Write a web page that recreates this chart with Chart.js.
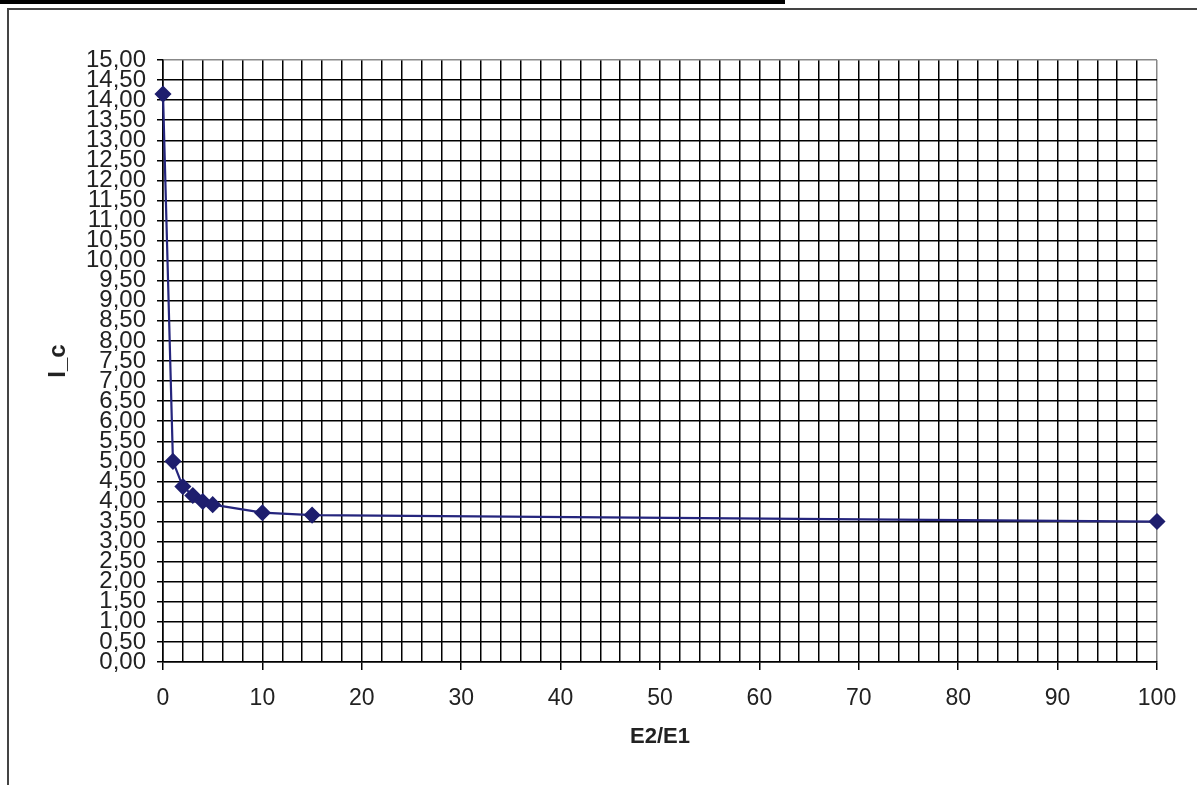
<!DOCTYPE html>
<html>
<head>
<meta charset="utf-8">
<script src="https://cdn.jsdelivr.net/npm/chart.js@4"></script>
<style>
  html, body { margin: 0; padding: 0; background: #fff; }
  body { width: 1197px; height: 785px; position: relative; overflow: hidden; }
  #topbar { position: absolute; left: 0; top: 0; width: 785px; height: 4px; background: #000; }
  #frameTop { position: absolute; left: 7px; top: 8px; width: 1190px; height: 2px; background: #444; }
  #frameLeft { position: absolute; left: 7px; top: 8px; width: 2px; height: 777px; background: #444; }
  #wrap { position: absolute; left: 0; top: 0; width: 1197px; height: 785px; }
</style>
</head>
<body>
<div id="topbar"></div>
<div id="frameTop"></div>
<div id="frameLeft"></div>
<div id="wrap"><canvas id="chart" width="1197" height="785"></canvas></div>
<script>
// ratio E2/E1 and the value I_c
const ratios = [0, 1, 2, 3, 4, 5, 10, 15, 100];
const icValues = [14.15, 5.00, 4.37, 4.15, 4.00, 3.92, 3.72, 3.66, 3.50];

const xTitle = "E2/E1";
const yTitle = "I_c";

const points = ratios.map((r, i) => ({ x: r, y: icValues[i] }));

const ctx = document.getElementById('chart').getContext('2d');
const myChart = new Chart(ctx, {
    type: 'scatter',
    data: {
        datasets: [{
            data: points,
            showLine: true,
            borderColor: '#25257d',
            borderWidth: 2.2,
            backgroundColor: '#1e1e6e',
            pointBackgroundColor: '#1e1e6e',
            pointBorderColor: '#1e1e6e',
            pointStyle: 'rectRot',
            pointRadius: 7,
            clip: false
        }]
    },
    options: {
        responsive: false,
        animation: false,
        layout: { padding: { left: 40, right: 40, top: 60, bottom: 23 } },
        plugins: { legend: { display: false }, tooltip: { enabled: false } },
        scales: {
            x: {
                type: 'linear',
                min: 0, max: 100,
                afterFit: (scale) => { scale.height = 100; },
                border: { color: '#000', width: 1.5 },
                grid: {
                    color: (c) => c.tick && c.tick.value === 100 ? '#888' : '#000',
                    lineWidth: 1.5,
                    tickLength: 8,
                    tickColor: (c) => c.tick && c.tick.value % 10 === 0 ? '#000' : 'rgba(0,0,0,0)'
                },
                ticks: {
                    stepSize: 2,
                    autoSkip: false,
                    maxRotation: 0,
                    padding: 15,
                    color: '#222',
                    font: { family: 'Liberation Sans, Arial', size: 23 },
                    callback: (v) => v % 10 === 0 ? String(v) : ''
                },
                title: {
                    display: true,
                    text: xTitle,
                    color: '#222',
                    font: { family: 'Liberation Sans, Arial', size: 22, weight: 'bold' },
                    padding: { top: 4, bottom: 12 }
                }
            },
            y: {
                min: 0, max: 15,
                afterFit: (scale) => { scale.width = 123; },
                border: { color: '#000', width: 1.5 },
                grid: {
                    color: (c) => c.tick && c.tick.value === 15 ? '#888' : '#000',
                    lineWidth: 1.5,
                    tickLength: 6,
                    tickColor: '#000'
                },
                ticks: {
                    stepSize: 0.5,
                    autoSkip: false,
                    padding: 11,
                    color: '#222',
                    font: { family: 'Liberation Sans, Arial', size: 24, lineHeight: 1 },
                    callback: (v) => v.toFixed(2).replace('.', ',')
                },
                title: {
                    display: true,
                    text: yTitle,
                    color: '#222',
                    font: { family: 'Liberation Sans, Arial', size: 24, weight: 'bold' },
                    padding: 4
                }
            }
        }
    }
});
</script>
</body>
</html>
